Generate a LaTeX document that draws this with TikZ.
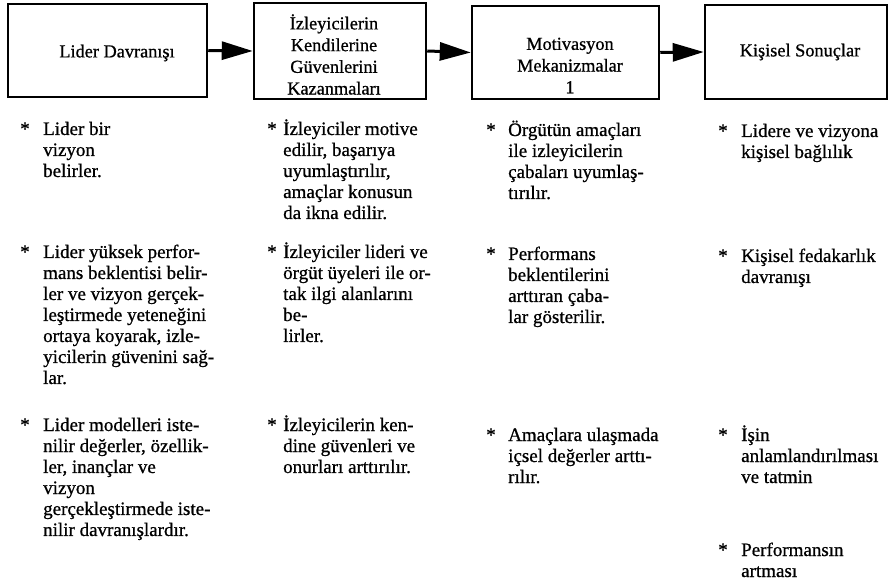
\documentclass[tikz,border=0pt]{standalone}
\usepackage{fontspec}
\setmainfont{Liberation Serif}
\newfontfamily\heavy{Liberation Serif}[FakeBold=0.8]
\usetikzlibrary{arrows.meta}
\newcommand\stk[1]{\vtop{\baselineskip=21pt\lineskiplimit=-30pt\lineskip=0pt\halign{##\hfil\cr#1\crcr}}}
\tikzset{
  box/.style={draw, line width=2.5pt, inner sep=0pt},
  arr/.style={line width=3pt, -{Triangle[length=31pt,width=18pt]}},
  boxtxt/.style={font=\heavy\fontsize{18.3}{21.7}\selectfont, align=center, inner sep=0pt},
  star/.style={font=\heavy\fontsize{19}{21}\selectfont, anchor=base, inner sep=0pt},
  btxt/.style={font=\heavy\fontsize{19}{21}\selectfont, anchor=base west, inner sep=0pt}
}
\begin{document}
\begin{tikzpicture}[x=1pt,y=-1pt]
\useasboundingbox (0,0) rectangle (892,585);
% boxes
\node[box, minimum width=199pt, minimum height=93pt] (b1) at (107.5,50.5) {};
\node[box, minimum width=172pt, minimum height=96pt] (b2) at (340,51) {};
\node[box, minimum width=187pt, minimum height=93pt] (b3) at (565.5,52.5) {};
\node[box, minimum width=182pt, minimum height=94pt] (b4) at (796,52) {};
\node[boxtxt] (t1) at (117,53) {Lider Davranışı};
\node[boxtxt] (t2) at (334,54.5) {İzleyicilerin\\Kendilerine\\Güvenlerini\\Kazanmaları};
\node[boxtxt] (t3) at (570,65.5) {Motivasyon\\Mekanizmalar\\1};
\node[boxtxt] (t4) at (800,52) {Kişisel Sonuçlar};
% arrows
\draw[arr] (b1.east) -- (b2.west);
\draw[arr] (b2.east) -- (b3.west);
\draw[arr] (b3.east) -- (b4.west);
% column 1
\node[star] (s11) at (25,135) {*};
\node[btxt] (c11) at (43,135) {\stk{Lider bir\cr vizyon\cr belirler.}};
\node[star] (s12) at (25,258) {*};
\node[btxt] (c12) at (43,258) {\stk{Lider yüksek perfor-\cr mans beklentisi belir-\cr ler ve vizyon gerçek-\cr leştirmede yeteneğini\cr ortaya koyarak, izle-\cr yicilerin güvenini sağ-\cr lar.}};
\node[star] (s13) at (25,431) {*};
\node[btxt] (c13) at (43,431) {\stk{Lider modelleri iste-\cr nilir değerler, özellik-\cr ler, inançlar ve\cr vizyon\cr gerçekleştirmede iste-\cr nilir davranışlardır.}};
% column 2
\node[star] (s21) at (272,135) {*};
\node[btxt] (c21) at (283,135) {\stk{İzleyiciler motive\cr edilir, başarıya\cr uyumlaştırılır,\cr amaçlar konusun\cr da ikna edilir.}};
\node[star] (s22) at (272,258) {*};
\node[btxt] (c22) at (283,258) {\stk{İzleyiciler lideri ve\cr örgüt üyeleri ile or-\cr tak ilgi alanlarını\cr be-\cr lirler.}};
\node[star] (s23) at (272,431) {*};
\node[btxt] (c23) at (283,431) {\stk{İzleyicilerin ken-\cr dine güvenleri ve\cr onurları arttırılır.}};
% column 3
\node[star] (s31) at (491,136) {*};
\node[btxt] (c31) at (508,136) {\stk{Örgütün amaçları\cr ile izleyicilerin\cr çabaları uyumlaş-\cr tırılır.}};
\node[star] (s32) at (491,260) {*};
\node[btxt] (c32) at (508,260) {\stk{Performans\cr beklentilerini\cr arttıran çaba-\cr lar gösterilir.}};
\node[star] (s33) at (491,441) {*};
\node[btxt] (c33) at (508,441) {\stk{Amaçlara ulaşmada\cr içsel değerler arttı-\cr rılır.}};
% column 4
\node[star] (s41) at (723,137) {*};
\node[btxt] (c41) at (741,137) {\stk{Lidere ve vizyona\cr kişisel bağlılık}};
\node[star] (s42) at (723,262) {*};
\node[btxt] (c42) at (741,262) {\stk{Kişisel fedakarlık\cr davranışı}};
\node[star] (s43) at (723,441) {*};
\node[btxt] (c43) at (741,441) {\stk{İşin\cr anlamlandırılması\cr ve tatmin}};
\node[star] (s44) at (723,556) {*};
\node[btxt] (c44) at (741,556) {\stk{Performansın\cr artması}};
\end{tikzpicture}
\end{document}
